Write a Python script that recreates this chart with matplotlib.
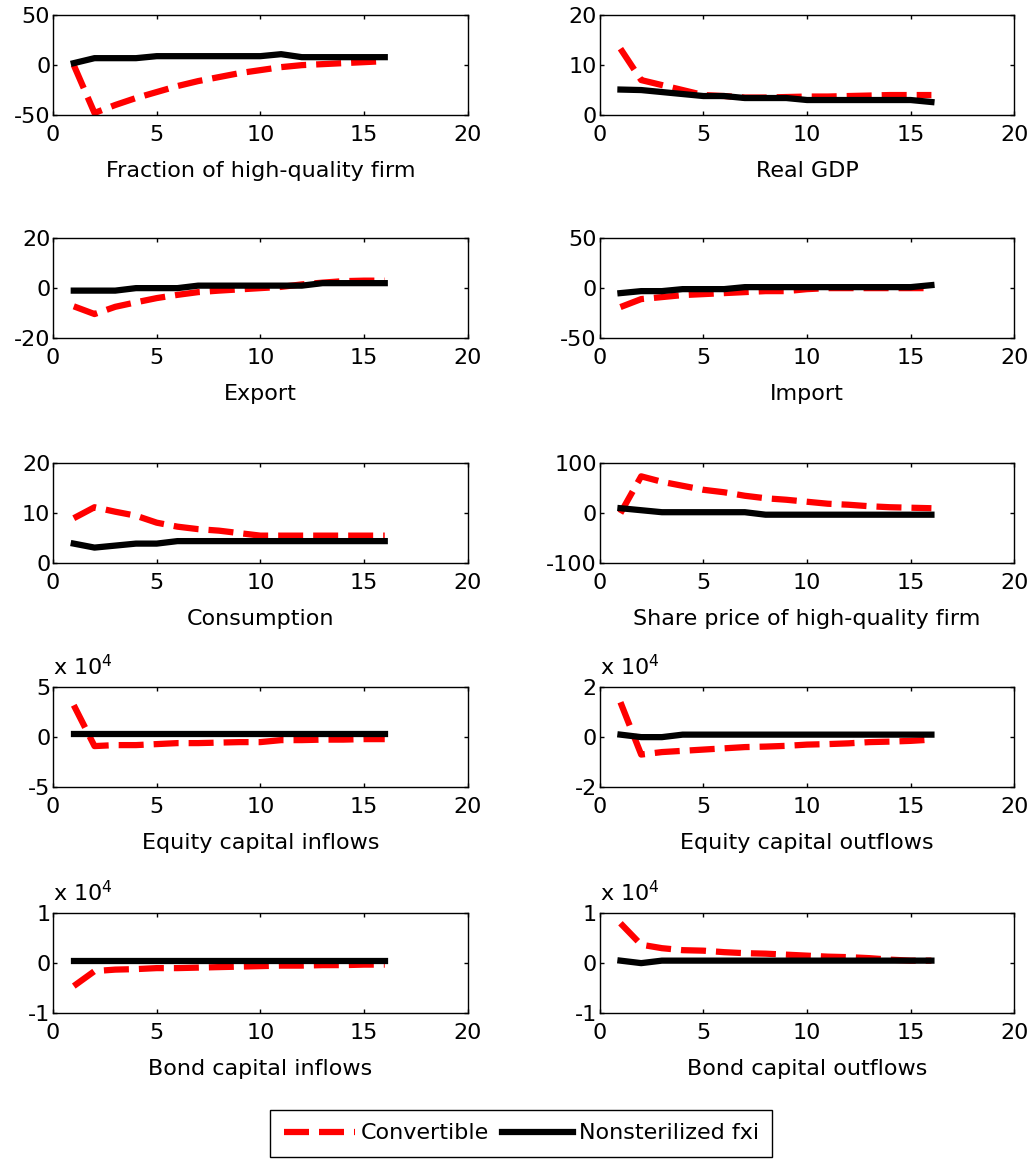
import numpy as np
import matplotlib
matplotlib.use('Agg')
import matplotlib.pyplot as plt
from matplotlib.ticker import FuncFormatter

plt.rcParams['font.family'] = ['DejaVu Sans']
plt.rcParams['font.size'] = 16
plt.rcParams['axes.unicode_minus'] = False

periods = np.arange(1, 17)

titles = ['Fraction of high-quality firm', 'Real GDP',
          'Export', 'Import',
          'Consumption', 'Share price of high-quality firm',
          'Equity capital inflows', 'Equity capital outflows',
          'Bond capital inflows', 'Bond capital outflows']

# red dashed line
convertible = [
    [0, -48, -40, -33, -27, -21, -16, -12, -8, -5, -2, 0, 1, 2, 3, 4],
    [13.3, 7, 6, 5, 4, 3.8, 3.5, 3.5, 3.6, 3.7, 3.7, 3.8, 3.9, 4, 4, 4],
    [-7.3, -10.4, -7.5, -5.7, -4, -2.7, -1.6, -1, -0.5, 0, 0.5, 1.5, 2.2, 2.8, 3, 3],
    [-19, -11, -9, -7, -6, -5, -4, -3, -3, -1, 0, 0, 0, 0, 0, 0],
    [9, 11.2, 10.3, 9.5, 8.1, 7.3, 6.8, 6.5, 6, 5.5, 5.5, 5.5, 5.5, 5.5, 5.5, 5.5],
    [0, 74, 63, 55, 47, 42, 35, 30, 27, 23, 19, 17, 14, 12, 11, 10],
    [32000, -9000, -8000, -8000, -7000, -6000, -6000, -5500, -5000, -5000, -3000, -3000, -2500, -2500, -2000, -2000],
    [14000, -7000, -6000, -5500, -5000, -4500, -4000, -3800, -3500, -3000, -2800, -2500, -2000, -1800, -1500, -1000],
    [-4600, -1600, -1300, -1200, -1000, -1000, -900, -800, -700, -600, -500, -500, -400, -400, -300, -300],
    [8000, 3700, 3000, 2600, 2500, 2200, 2000, 1900, 1700, 1500, 1300, 1200, 1000, 700, 500, 500],
]

# black solid line
nonsterilized = [
    [2, 7, 7, 7, 9, 9, 9, 9, 9, 9, 11, 8, 8, 8, 8, 8],
    [5.1, 5, 4.6, 4.2, 3.8, 3.8, 3.4, 3.4, 3.4, 3.0, 3.0, 3.0, 3.0, 3.0, 3.0, 2.6],
    [-1, -1, -1, 0, 0, 0, 1, 1, 1, 1, 1, 1, 2, 2, 2, 2],
    [-5, -3, -3, -1, -1, -1, 1, 1, 1, 1, 1, 1, 1, 1, 1, 3],
    [3.9, 3.1, 3.5, 3.9, 3.9, 4.4, 4.4, 4.4, 4.4, 4.4, 4.4, 4.4, 4.4, 4.4, 4.4, 4.4],
    [10, 6, 2, 2, 2, 2, 2, -3, -3, -3, -3, -3, -3, -3, -3, -3],
    [3000, 3000, 3000, 3000, 3000, 3000, 3000, 3000, 3000, 3000, 3000, 3000, 3000, 3000, 3000, 3000],
    [1000, 0, 0, 1000, 1000, 1000, 1000, 1000, 1000, 1000, 1000, 1000, 1000, 1000, 1000, 1000],
    [500, 500, 500, 500, 500, 500, 500, 500, 500, 500, 500, 500, 500, 500, 500, 500],
    [500, 0, 500, 500, 500, 500, 500, 500, 500, 500, 500, 500, 500, 500, 500, 500],
]

ylims = [50, 20, 20, 50, 20, 100, 5e4, 2e4, 1e4, 1e4]
ylow = [-50, 0, -20, -50, 0, -100, -5e4, -2e4, -1e4, -1e4]
scaled = [False] * 6 + [True] * 4

fig = plt.figure(figsize=(10.34, 11.59), dpi=100)
lefts = [0.0513, 0.580]
bottoms = [0.9008, 0.7084, 0.5142, 0.3210, 0.1260]
w, h = 0.401, 0.086

for i in range(10):
    r, c = divmod(i, 2)
    ax = fig.add_axes([lefts[c], bottoms[r], w, h])
    l1, = ax.plot(periods, convertible[i], color='red', lw=4.5, ls='--', dashes=(4, 1.6))
    l2, = ax.plot(periods, nonsterilized[i], color='black', lw=4.5)
    ax.set_xlim(0, 20)
    ax.set_xticks([0, 5, 10, 15, 20])
    ax.set_ylim(ylow[i], ylims[i])
    ax.set_yticks([ylow[i], (ylow[i] + ylims[i]) / 2, ylims[i]])
    if scaled[i]:
        ax.yaxis.set_major_formatter(FuncFormatter(lambda v, p: '%g' % (v / 1e4)))
        ax.text(0.0, 1.08, r'x 10$^4$', transform=ax.transAxes, fontsize=16, ha='left', va='bottom')
    ax.tick_params(direction='in', length=3, width=1, top=True, right=True, labelsize=16)
    ax.tick_params(axis='x', pad=7)
    ax.tick_params(axis='y', pad=2)
    for s in ax.spines.values():
        s.set_linewidth(1)
    ax.set_xlabel(titles[i], fontsize=16, labelpad=12)

fig.legend([l1, l2], ['Convertible', 'Nonsterilized fxi'], loc='lower center',
           bbox_to_anchor=(0.504, 0.0), ncol=2, fancybox=False, edgecolor='black',
           framealpha=1, handlelength=3.2, fontsize=16, columnspacing=0.6,
           handletextpad=0.25, borderpad=0.6, borderaxespad=0.1)

fig.savefig('out.png', dpi=100)
